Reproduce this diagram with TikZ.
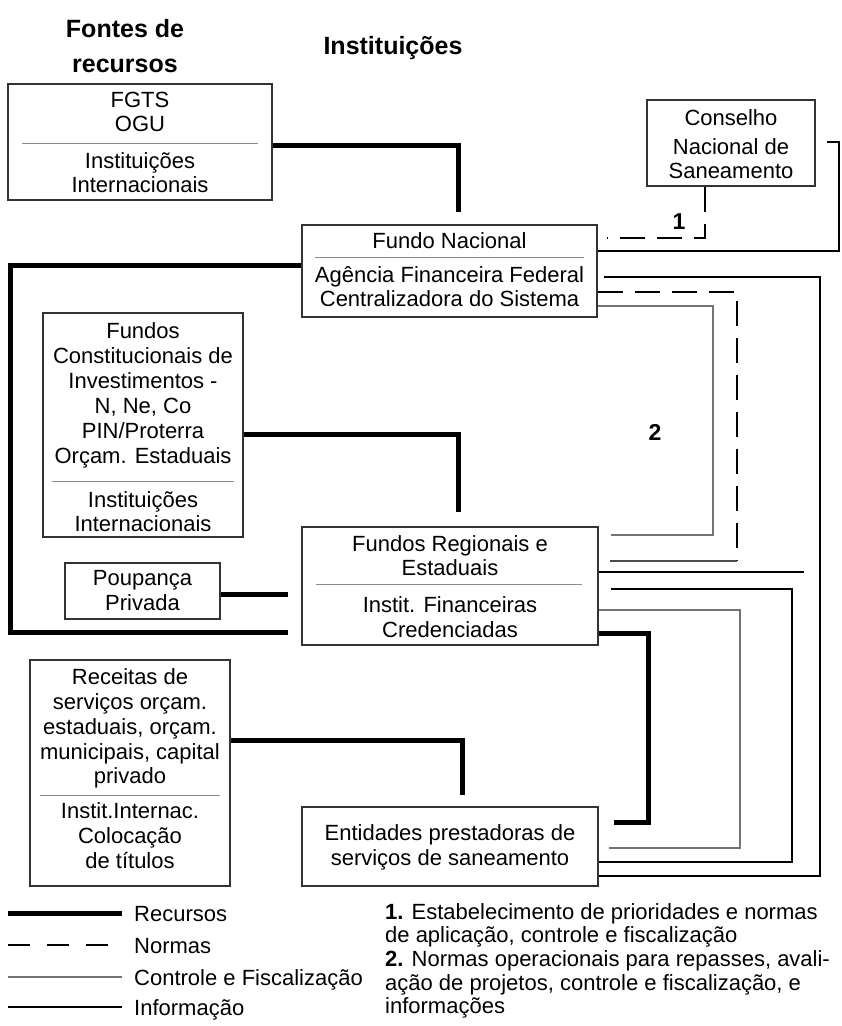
\documentclass[tikz,border=0pt]{standalone}
\usepackage{fontspec}
\setmainfont{Liberation Sans}
\newcommand\fsz{\fontsize{22}{24}\selectfont}
\newcommand\fttl{\fontsize{25}{30}\selectfont\bfseries}
\begin{document}
\begin{tikzpicture}[x=1pt,y=-1pt,
  box/.style={draw=black!80, line width=1.4pt, inner sep=0, fill=white},
  txt/.style={font=\fsz, inner sep=0, anchor=base},
  ltxt/.style={font=\fsz, inner sep=0, anchor=base west},
  ttl/.style={font=\fttl, inner sep=0, anchor=base},
  num/.style={font=\fontsize{23}{24}\selectfont\bfseries, inner sep=0},
  sep/.style={draw=black!45, line width=1pt},
  recl/.style={line width=5pt},
  norma/.style={line width=2.8pt, dash pattern=on 25pt off 12pt},
  ctrl/.style={draw=black!55, line width=1.2pt},
  info/.style={line width=2.4pt},
  thinblk/.style={draw=black!70, line width=1.3pt}]
\useasboundingbox (0,0) rectangle (842,1026);
\fill[white] (0,0) rectangle (842,1026);

% titles
\node[ttl] (t1) at (125,37) {Fontes de};
\node[ttl] (t2) at (125,72) {recursos};
\node[ttl] (t3) at (393,54) {Instituições};

% boxes
\node[box, minimum width=264, minimum height=116] (fgts) at (140,142) {};
\node[box, minimum width=295, minimum height=92] (fn) at (449.5,271) {};
\node[box, minimum width=168, minimum height=86] (cns) at (731,143) {};
\node[box, minimum width=200, minimum height=224] (fc) at (143,425) {};
\node[box, minimum width=296, minimum height=118] (fr) at (450,586) {};
\node[box, minimum width=155, minimum height=56] (poup) at (142.5,591) {};
\node[box, minimum width=200, minimum height=226] (rcx) at (130,773) {};
\node[box, minimum width=296, minimum height=79] (ent) at (450,846.5) {};

% texts in boxes
\node[txt] (fgts1) at (140,107) {FGTS};
\node[txt] (fgts2) at (140,131) {OGU};
\draw[sep] (22,143) -- (258,143);
\node[txt] (fgts3) at (140,168) {Instituições};
\node[txt] (fgts4) at (140,192) {Internacionais};

\node[txt] (fn1) at (449.5,248) {Fundo Nacional};
\draw[sep] (315,257) -- (584,257);
\node[txt] (fn2) at (449.5,282) {Agência Financeira Federal};
\node[txt] (fn3) at (449.5,306) {Centralizadora do Sistema};

\node[txt] (cns1) at (731,125) {Conselho};
\node[txt] (cns2) at (731,154) {Nacional de};
\node[txt] (cns3) at (731,178) {Saneamento};

\node[txt] (fc1) at (143,338) {Fundos};
\node[txt] (fc2) at (143,363) {Constitucionais de};
\node[txt] (fc3) at (143,388) {Investimentos -};
\node[txt] (fc4) at (143,413) {N, Ne, Co};
\node[txt] (fc5) at (143,438) {PIN/Proterra};
\node[txt] (fc6) at (143,463) {Orçam. Estaduais};
\draw[sep] (52,481) -- (234,481);
\node[txt] (fc7) at (143,507) {Instituições};
\node[txt] (fc8) at (143,531) {Internacionais};

\node[txt] (fr1) at (450,551) {Fundos Regionais e};
\node[txt] (fr2) at (450,575) {Estaduais};
\draw[sep] (316,584) -- (582,584);
\node[txt] (fr3) at (450,612) {Instit. Financeiras};
\node[txt] (fr4) at (450,637) {Credenciadas};

\node[txt] (pp1) at (142.5,585) {Poupança};
\node[txt] (pp2) at (142.5,610) {Privada};

\node[txt] (rc1) at (130,684) {Receitas de};
\node[txt] (rc2) at (130,709) {serviços orçam.};
\node[txt] (rc3) at (130,734) {estaduais, orçam.};
\node[txt] (rc4) at (130,759) {municipais, capital};
\node[txt] (rc5) at (130,783) {privado};
\draw[sep] (40,795) -- (220,795);
\node[txt] (rc6) at (130,818) {Instit.Internac.};
\node[txt] (rc7) at (130,843) {Colocação};
\node[txt] (rc8) at (130,868) {de títulos};

\node[txt] (en1) at (450,840) {Entidades prestadoras de};
\node[txt] (en2) at (450,865) {serviços de saneamento};

% free ends
\coordinate (c1) at (458,212);
\coordinate (c2) at (288,632);
\coordinate (c3) at (458,512);
\coordinate (c4) at (288,594);
\coordinate (c5) at (462,795);
\coordinate (c6) at (614,822);
\coordinate (c7) at (607,238);
\coordinate (c8) at (827,142);
\coordinate (c9) at (604,277);
\coordinate (c10a) at (737,561);
\coordinate (c10) at (610,561);
\coordinate (c11) at (611,535);
\coordinate (c12) at (804,572);
\coordinate (c13) at (611,589);
\coordinate (c14) at (609,848);

% Recursos
\draw[recl] (fgts.east |- 0,145) -| (c1);
\draw[recl] (fn.west |- 0,265) -| (10,632) -- (c2);
\draw[recl] (fc.east |- 0,434) -| (c3);
\draw[recl] (poup.east |- 0,594) -- (c4);
\draw[recl] (rcx.east |- 0,740) -| (c5);
\draw[recl] (fr.east |- 0,633) -| (648,822) -- (c6);

% Normas
\draw[norma] (cns.south -| 705,0) |- (c7);
\draw[norma] (fn.east |- 0,292) -| (c10a);
\draw[thinblk] (c10a) -- (c10);

% Controle
\draw[ctrl] (fn.east |- 0,306) -| (713,535) -- (c11);
\draw[ctrl] (fr.east |- 0,610) -| (740,848) -- (c14);

% Informacao
\draw[info] (c8) -| (839,251) -- (fn.east |- 0,251);
\draw[info] (c9) -| (820,876) -- (ent.east |- 0,876);
\draw[info] (fr.east |- 0,572) -- (c12);
\draw[info] (c13) -| (792,862) -- (ent.east |- 0,862);

% labels
\node[num] (n1) at (679,222) {1};
\node[num] (n2) at (655,432) {2};

% legend
\coordinate (l1a) at (8,913); \coordinate (l1b) at (122,913);
\coordinate (l2a) at (8,945); \coordinate (l2b) at (122,945);
\coordinate (l3a) at (8,977); \coordinate (l3b) at (122,977);
\coordinate (l4a) at (8,1007); \coordinate (l4b) at (122,1007);
\draw[recl] (l1a) -- (l1b);
\draw[line width=2.8pt, dash pattern=on 22pt off 17pt] (l2a) -- (l2b);
\draw[ctrl] (l3a) -- (l3b);
\draw[info] (l4a) -- (l4b);
\node[ltxt] (lg1) at (134,921) {Recursos};
\node[ltxt] (lg2) at (134,953) {Normas};
\node[ltxt] (lg3) at (134,985) {Controle e Fiscalização};
\node[ltxt] (lg4) at (134,1015) {Informação};

\node[ltxt] (nt1) at (385,919) {\textbf{1.} Estabelecimento de prioridades e normas};
\node[ltxt] (nt2) at (385,942) {de aplicação, controle e fiscalização};
\node[ltxt] (nt3) at (385,966) {\textbf{2.} Normas operacionais para repasses, avali-};
\node[ltxt] (nt4) at (385,990) {ação de projetos, controle e fiscalização, e};
\node[ltxt] (nt5) at (385,1013) {informações};
\end{tikzpicture}
\end{document}
